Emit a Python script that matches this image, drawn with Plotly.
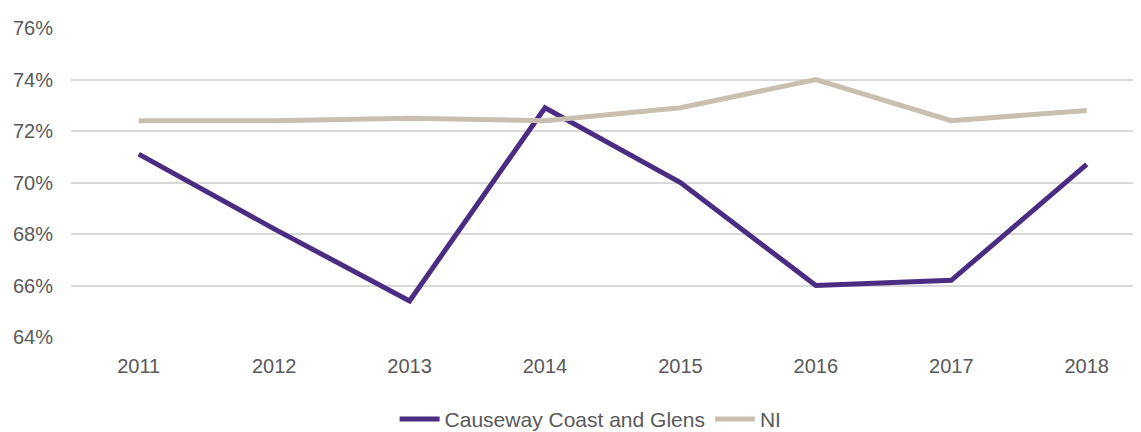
import plotly.graph_objects as go

years = ["2011", "2012", "2013", "2014", "2015", "2016", "2017", "2018"]
ccg = [71.1, 68.2, 65.4, 72.9, 70.0, 66.0, 66.2, 70.7]
ni = [72.4, 72.4, 72.5, 72.4, 72.9, 74.0, 72.4, 72.8]

fig = go.Figure()
fig.add_trace(go.Scatter(x=years, y=ccg, mode="lines", name="Causeway Coast and Glens",
                         line=dict(color="#4B2C83", width=5)))
fig.add_trace(go.Scatter(x=years, y=ni, mode="lines", name="NI",
                         line=dict(color="#C9BFB0", width=5)))

fig.update_layout(
    width=1141, height=440,
    margin=dict(l=63, r=0, t=20, b=111),
    paper_bgcolor="white", plot_bgcolor="white",
    font=dict(family="Liberation Sans, Arial, sans-serif", size=20, color="#595959"),
    showlegend=True,
    legend=dict(orientation="h", x=0.482, xanchor="center", y=-0.2, yanchor="top",
                font=dict(size=21, color="#595959"), itemwidth=40),
    xaxis=dict(type="category", range=[-0.5, 7.46], showgrid=False, showline=False,
               ticks="", tickfont=dict(size=20, color="#595959"), ticklabelstandoff=15),
    yaxis=dict(range=[64, 76], dtick=2, ticksuffix="%", showgrid=True,
               gridcolor="#D9D9D9", gridwidth=2, zeroline=False, showline=False,
               tickfont=dict(size=20, color="#595959"), ticklabelstandoff=17),
)
fig.write_html("out.html")
